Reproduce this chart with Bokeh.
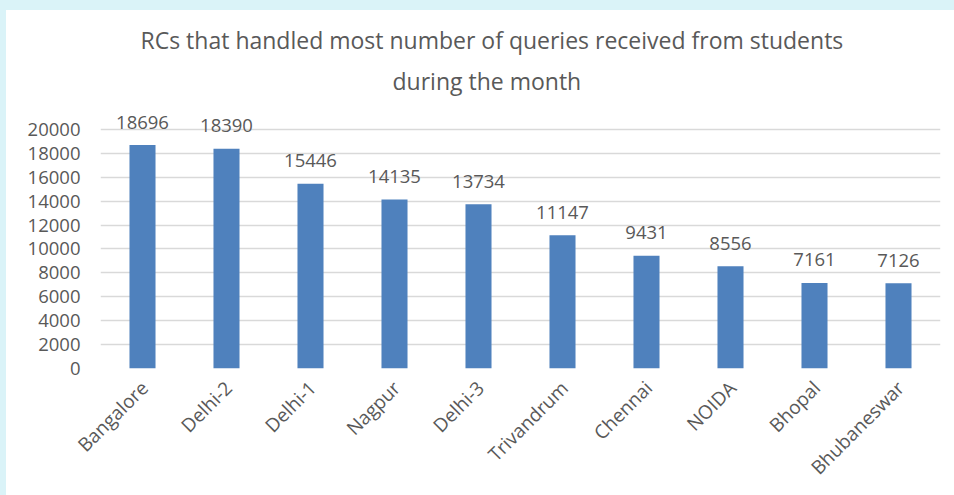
import math
from bokeh.plotting import figure
from bokeh.layouts import column
from bokeh.models import (ColumnDataSource, Title, FixedTicker, Range1d, LinearAxis)
from bokeh.core.properties import value
from bokeh.embed import file_html
from bokeh.resources import INLINE

centres = ["Bangalore", "Delhi-2", "Delhi-1", "Nagpur", "Delhi-3",
           "Trivandrum", "Chennai", "NOIDA", "Bhopal", "Bhubaneswar"]
queries = [18696, 18390, 15446, 14135, 13734, 11147, 9431, 8556, 7161, 7126]
y_ticks = [0, 2000, 4000, 6000, 8000, 10000, 12000, 14000, 16000, 18000, 20000]
title_line1 = "RCs that handled most number of queries received from students"
title_line2 = "during the month"

FONT = "Open Sans"
TXT = "#595959"
GRID = "#D9D9D9"
BAR = "#4F81BD"

n = len(centres)
pos = list(range(n))
src = ColumnDataSource(dict(x=pos, c=centres, q=queries, lbl=[str(v) for v in queries]))

p = figure(x_range=Range1d(-0.5, n - 0.5), y_range=Range1d(0, 21500),
           width=948, height=485, output_backend="svg", toolbar_location=None,
           min_border_left=94, min_border_right=14, min_border_top=101, min_border_bottom=127)
p.margin = (10, 0, 0, 6)
p.background_fill_color = "white"
p.border_fill_color = "white"
p.outline_line_color = None

p.vbar(x="x", top="q", width=0.31, source=src, fill_color=BAR, line_color=None)
p.text(x="x", y="q", text="lbl", source=src, text_align="center", text_baseline="alphabetic",
       y_offset=-23, text_font=value(FONT), text_font_size="18.5px", text_color=TXT)

p.yaxis.ticker = FixedTicker(ticks=y_ticks)
p.ygrid.grid_line_color = GRID
p.ygrid.grid_line_width = 1.5
p.xgrid.grid_line_color = None
p.xaxis.visible = False

# category labels axis (shifted slightly so the label ends sit at each bar)
shift = 0.025
p.extra_x_ranges = {"lab": Range1d(-0.5 - shift, n - 0.5 - shift)}
lab_axis = LinearAxis(x_range_name="lab", ticker=FixedTicker(ticks=pos),
                      major_label_overrides={i: c for i, c in zip(pos, centres)})
p.add_layout(lab_axis, "below")

for ax in (lab_axis, p.yaxis[0]):
    ax.axis_line_color = None
    ax.major_tick_line_color = None
    ax.minor_tick_line_color = None
    ax.major_label_text_font = FONT
    ax.major_label_text_color = TXT
p.yaxis.major_label_text_font_size = "18.5px"
p.yaxis.major_label_standoff = 14
lab_axis.major_label_text_font_size = "19px"
lab_axis.major_label_orientation = math.pi / 4
lab_axis.major_label_standoff = 10

t2 = Title(text=title_line2, align="left", text_font=FONT, text_font_size="23px",
           text_color=TXT, text_font_style="normal", standoff=29, offset=292)
t1 = Title(text=title_line1, align="left", text_font=FONT, text_font_size="23px",
           text_color=TXT, text_font_style="normal", standoff=-14, offset=40)
p.add_layout(t2, "above")
p.add_layout(t1, "above")

page = column(p, styles={
    "background": ("linear-gradient(to bottom, #DAF3F8 0px, #DAF3F8 10px, transparent 10px), "
                   "linear-gradient(to right, #DAF3F8 0px, #DAF3F8 6px, #FFFFFF 6px)")})

open("out.html", "w").write(file_html(page, INLINE))
